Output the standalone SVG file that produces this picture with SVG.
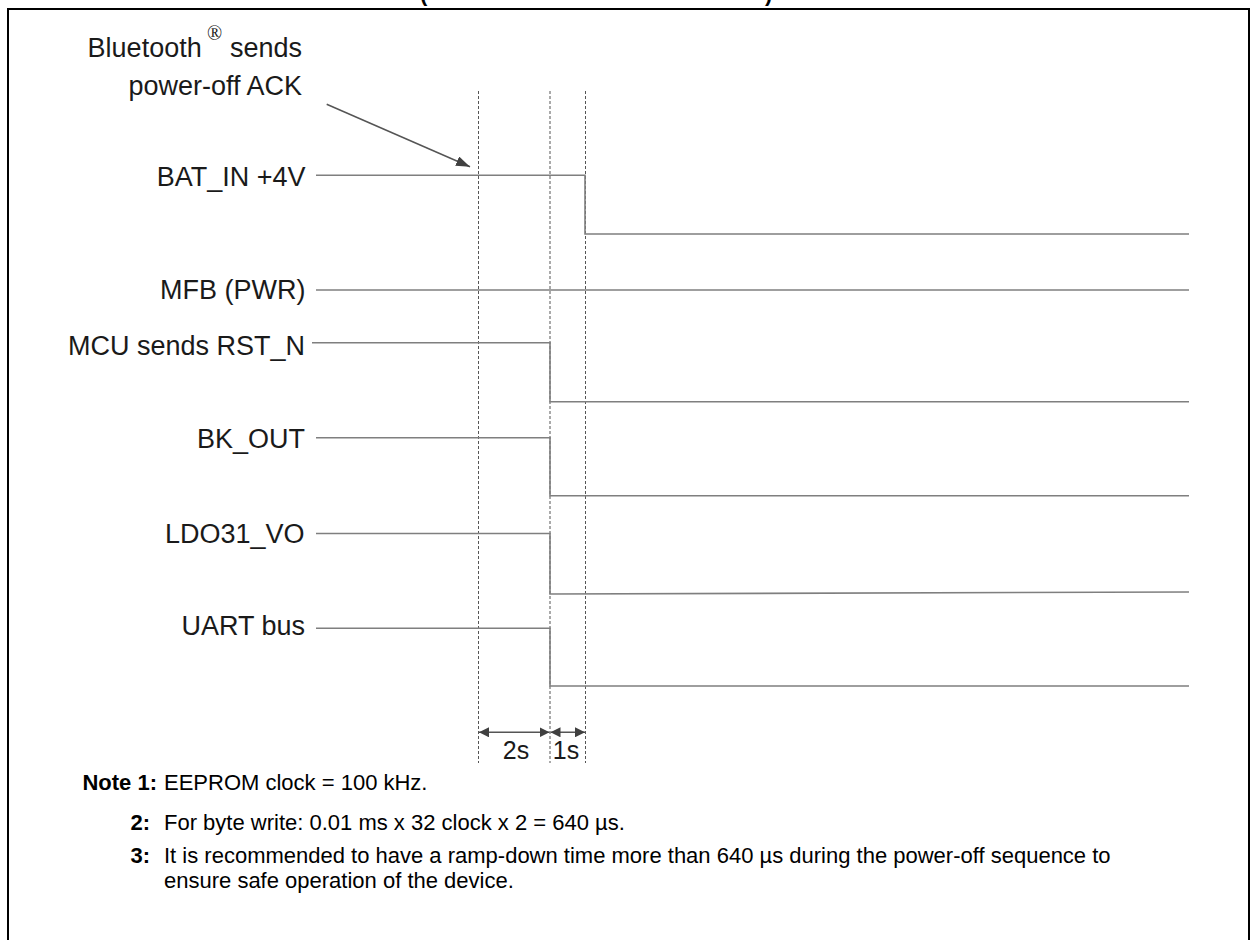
<svg xmlns="http://www.w3.org/2000/svg" width="1254" height="940" viewBox="0 0 1254 940">
<style>
.lbl{font-family:"Liberation Sans",Arial,sans-serif;font-size:27px;fill:#1a1a1a;text-anchor:end}
.sig{fill:none;stroke:#7f7f7f;stroke-width:1.6}
.grid{stroke:#555;stroke-width:1;stroke-dasharray:3,2}
.dim{stroke:#555;stroke-width:1.5;fill:none}
.note{font-family:"Liberation Sans",Arial,sans-serif;font-size:22px;fill:#000}
.nb{font-weight:bold;text-anchor:end}
</style>
<defs>
<marker id="ah" viewBox="0 0 10 10" refX="10" refY="5" markerWidth="10" markerHeight="10" markerUnits="userSpaceOnUse" orient="auto-start-reverse">
<path d="M0,0 L10,5 L0,10 z" fill="#404040"/>
</marker>
<marker id="ah2" viewBox="0 0 14 10" refX="14" refY="5" markerWidth="14" markerHeight="10" markerUnits="userSpaceOnUse" orient="auto">
<path d="M0,0 L14,5 L0,10 z" fill="#404040"/>
</marker>
</defs>
<rect width="1254" height="940" fill="#fff"/>
<text x="420" y="1" font-family="Liberation Sans,Arial,sans-serif" font-size="22" font-weight="bold">(</text>
<text x="765" y="1" font-family="Liberation Sans,Arial,sans-serif" font-size="22" font-weight="bold">)</text>
<path d="M8,940 V9 H1249 V940" fill="none" stroke="#000" stroke-width="2"/>
<g id="grid">
<line class="grid" x1="478.5" y1="91" x2="478.5" y2="763"/>
<line class="grid" x1="550" y1="91" x2="550" y2="763"/>
<line class="grid" x1="585.5" y1="91" x2="585.5" y2="763"/>
</g>
<g id="annotation">
<text class="lbl"><tspan x="201.7" y="57.3">Bluetooth</tspan><tspan x="207" y="40" font-family="Liberation Serif,serif" font-size="20" text-anchor="start">®</tspan><tspan x="302" y="57.3">sends</tspan></text>
<text class="lbl" x="302" y="95">power-off ACK</text>
</g>
<g id="lbl-bat"><text class="lbl" x="305.5" y="185.7">BAT_IN +4V</text></g>
<g id="lbl-mfb"><text class="lbl" x="305.5" y="299">MFB (PWR)</text></g>
<g id="lbl-rst"><text class="lbl" x="305" y="355">MCU sends RST_N</text></g>
<g id="lbl-bk"><text class="lbl" x="305" y="448">BK_OUT</text></g>
<g id="lbl-ldo"><text class="lbl" x="304.5" y="542.7">LDO31_VO</text></g>
<g id="lbl-uart"><text class="lbl" x="305" y="635">UART bus</text></g>
<g id="connectors">
<path class="sig" d="M316,175.3 H585 V234 H1189"/>
<path class="sig" d="M316,290 H1189"/>
<path class="sig" d="M312,342.7 H550 V401.7 H1189"/>
<path class="sig" d="M316,437.7 H550 V495.7 H1189"/>
<path class="sig" d="M316,533.5 H550 V594 L1189,592"/>
<path class="sig" d="M316,628.3 H550 V686 H1189"/>
<line x1="326.7" y1="104.3" x2="470" y2="166.7" stroke="#555" stroke-width="1.5" marker-end="url(#ah2)"/>
<line class="dim" x1="479" y1="732.3" x2="549.5" y2="732.3" marker-start="url(#ah)" marker-end="url(#ah)"/>
<line class="dim" x1="550.5" y1="732.3" x2="585" y2="732.3" marker-start="url(#ah)" marker-end="url(#ah)"/>
</g>
<g id="dims">
<text class="lbl" x="516" y="759.3" font-size="25" style="text-anchor:middle;font-size:25px">2s</text>
<text class="lbl" x="566" y="759.3" style="text-anchor:middle;font-size:25px">1s</text>
</g>
<g id="notes">
<text class="note nb" x="157" y="790">Note 1:</text>
<text class="note" x="164" y="790">EEPROM clock = 100 kHz.</text>
<text class="note nb" x="150" y="830">2:</text>
<text class="note" x="164" y="830">For byte write: 0.01 ms x 32 clock x 2 = 640 µs.</text>
<text class="note nb" x="150" y="863">3:</text>
<text class="note" x="164" y="863">It is recommended to have a ramp-down time more than 640 µs during the power-off sequence to</text>
<text class="note" x="164" y="888">ensure safe operation of the device.</text>
</g>
</svg>
